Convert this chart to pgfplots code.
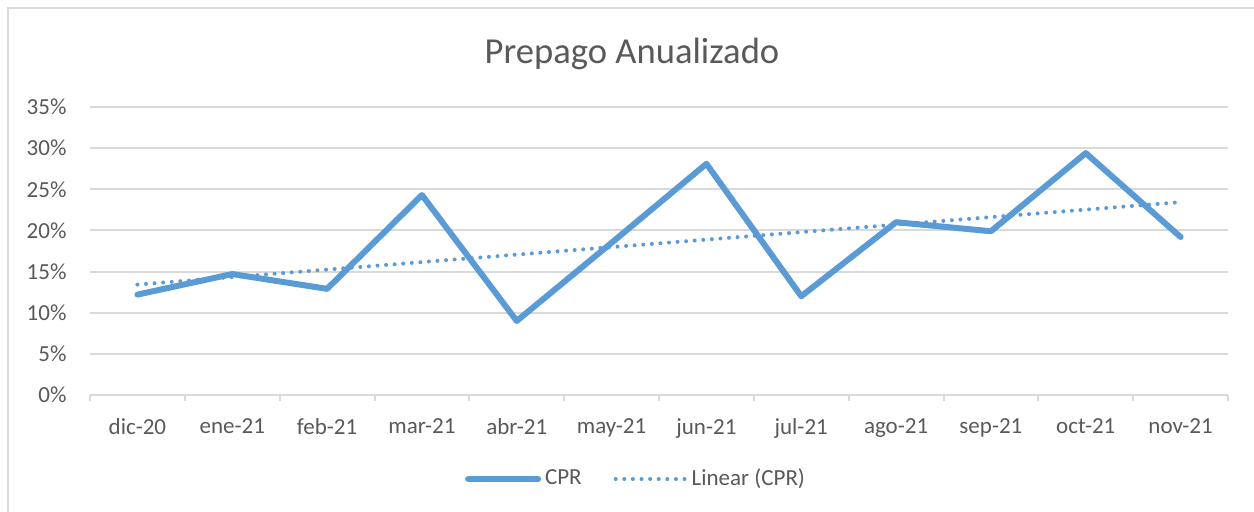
\documentclass[border=0pt]{standalone}
\usepackage{pgfplots}
\pgfplotsset{compat=1.18}
\usepackage{fontspec}
\setmainfont{Carlito}
\definecolor{cprblue}{HTML}{5B9BD5}
\definecolor{gridgray}{HTML}{D9D9D9}
\definecolor{txtgray}{HTML}{595959}
\begin{document}
\begin{tikzpicture}
\path[use as bounding box] (-45bp,-58.5bp) rectangle (582bp,197.5bp);
\draw[gridgray, line width=1bp] (-41bp,-60bp) -- (-41bp,193.5bp) -- (590bp,193.5bp);
\begin{axis}[
  at={(0,0)}, anchor=south west,
  scale only axis,
  width=569bp, height=144bp,
  xmin=-0.5, xmax=11.5,
  ymin=0, ymax=35,
  axis x line*=bottom, axis y line*=left,
  y axis line style={draw=none},
  x axis line style={gridgray, line width=1bp},
  xtick={0,1,2,3,4,5,6,7,8,9,10,11},
  xticklabels={dic-20,ene-21,feb-21,mar-21,abr-21,may-21,jun-21,jul-21,ago-21,sep-21,oct-21,nov-21},
  major x tick style={draw=none},
  minor xtick={-0.5,0.5,...,11.5},
  minor x tick style={gridgray, line width=1bp},
  minor tick length=3bp,
  tick align=outside,
  ytick={0,5,...,35},
  yticklabels={0\%,5\%,10\%,15\%,20\%,25\%,30\%,35\%},
  ytick style={draw=none},
  ymajorgrids,
  grid style={gridgray, line width=1bp},
  tick label style={font=\fontsize{11.5bp}{13bp}\selectfont, text=txtgray},
  xticklabel style={yshift=-4bp},
  yticklabel style={xshift=-4bp},
  legend style={draw=none, at={(0.4807,-0.2917)}, anchor=center,
    font=\fontsize{11.5bp}{13bp}\selectfont, text=txtgray,
    legend columns=2, /tikz/every even column/.append style={column sep=14bp},
    inner sep=0pt},
  legend image code/.code={\draw[#1] (0bp,0bp) -- (35bp,0bp);},
  clip=false,
]
\addplot[cprblue, line width=3bp, line cap=round, line join=round] coordinates {
(0,12.2) (1,14.7) (2,12.9) (3,24.3) (4,9.0) (5,18.5) (6,28.1) (7,12.0) (8,21.0) (9,19.9) (10,29.4) (11,19.2)
};
\addlegendentry{CPR}
\addplot[cprblue, line width=2bp, line cap=round, dash pattern=on 0bp off 4.3bp] coordinates {
(0,13.42) (11,23.44)
};
\addlegendentry{Linear (CPR)}
\end{axis}
\node[text=txtgray, font=\fontsize{18.3bp}{21bp}\selectfont] at (271bp,170.5bp) {Prepago Anualizado};
\end{tikzpicture}
\end{document}
